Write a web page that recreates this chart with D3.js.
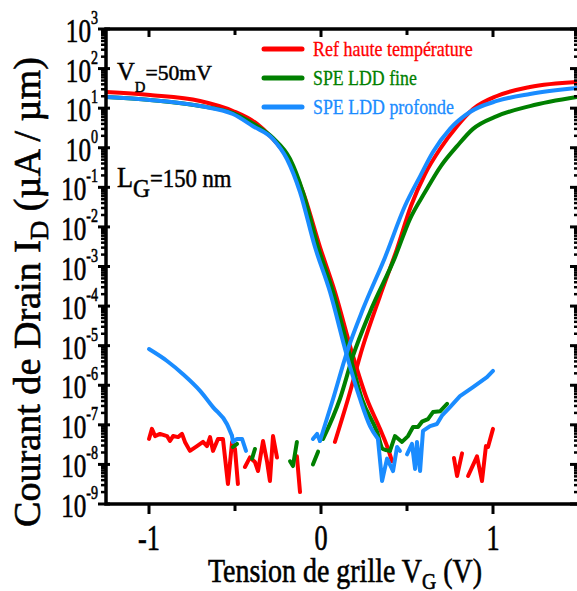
<!DOCTYPE html>
<html><head><meta charset="utf-8">
<script src="https://cdn.jsdelivr.net/npm/d3@7"></script>
<style>html,body{margin:0;padding:0;background:#fff;}svg{display:block;}</style>
</head><body>
<script>
// ---------------- DATA ----------------
const xTicksMajor = [-1, 0, 1];
const xTicksMinor = [-0.5, 0.5];
const xTickLabels = ["-1", "0", "1"];
const yDecadeExponents = [-9, -8, -7, -6, -5, -4, -3, -2, -1, 0, 1, 2, 3];
const seriesNames = ["Ref haute température", "SPE LDD fine", "SPE LDD profonde"];
const annotVD = ["V", "D", "=50mV"];
const annotLG = ["L", "G", "=150 nm"];
const xTitle = ["Tension de grille V", "G", " (V)"];
const yTitle = ["Courant de Drain I", "D", " (µA / µm)"];

// Ref haute température (red) — [VG (V), ID (µA/µm)]
const refBranchOff = [[-1.25,25.6],[-0.994,21.5],[-0.703,15.2],[-0.512,8.5],[-0.372,4.0],[-0.297,2.0],[-0.192,0.52],[-0.105,0.076],[-0.006,0.0031],[0.081,2.3e-4],[0.186,5.5e-6],[0.267,4.5e-7],[0.343,7.9e-8],[0.390,2.45e-8],[0.413,1.2e-8]];
const refBranchOn = [[0.081,3.7e-8],[0.157,4.5e-7],[0.244,9.8e-6],[0.343,1.8e-4],[0.442,0.0028],[0.523,0.0337],[0.605,0.217],[0.692,0.93],[0.791,3.5],[0.884,9.5],[1.023,20.3],[1.215,34.3],[1.488,45.8]];
const refNoiseLeft = [[-1.000,4.4e-8],[-0.983,7.9e-8],[-0.965,5.2e-8],[-0.936,5.9e-8],[-0.895,5.2e-8],[-0.878,3.9e-8],[-0.860,5.2e-8],[-0.831,4.9e-8],[-0.808,5.9e-8],[-0.791,3.7e-8],[-0.762,2.2e-8],[-0.721,2.9e-8],[-0.686,3.7e-8],[-0.663,2.9e-8],[-0.645,4.9e-8],[-0.628,2.2e-8],[-0.599,4.4e-8],[-0.570,4.4e-8],[-0.541,3.2e-9],[-0.517,3.7e-8],[-0.500,2.45e-8],[-0.483,3.2e-9]];
const refNoiseMid = [[-0.442,8.6e-9],[-0.413,1.5e-8],[-0.384,1.15e-8],[-0.366,6.8e-9],[-0.337,3.9e-8],[-0.314,1.2e-8],[-0.297,3.8e-9],[-0.279,5.2e-8],[-0.256,1.5e-8]];
const refNoiseNearZero = [[-0.140,1.6e-8],[-0.122,2.0e-9]];
const refNoiseRightA = [[0.773,1.45e-8],[0.791,5.1e-9],[0.820,1.9e-8]];
const refNoiseRightB = [[0.855,5.1e-9],[0.907,1.6e-8],[0.936,3.8e-9],[0.959,2.9e-8],[0.971,2.75e-8],[1.000,7.9e-8]];

// SPE LDD fine (green)
const fineBranchOff = [[-1.25,19.1],[-0.994,16.1],[-0.703,11.3],[-0.512,7.5],[-0.384,3.8],[-0.279,1.76],[-0.180,0.52],[-0.105,0.076],[-0.017,0.0031],[0.070,2.3e-4],[0.169,5.5e-6],[0.238,4.5e-7],[0.326,6.6e-8],[0.360,2.45e-8],[0.401,2.2e-8]];
const fineOffTail = [[0.401,2.2e-8],[0.430,5.2e-8],[0.471,3.7e-8],[0.506,5.2e-8],[0.535,8.8e-8],[0.564,8.8e-8],[0.587,1.2e-7],[0.622,1.4e-7],[0.651,2.1e-7],[0.692,2.2e-7],[0.733,3.4e-7]];
const fineBranchOn = [[0.012,4.4e-8],[0.110,4.5e-7],[0.186,5.5e-6],[0.285,7.1e-5],[0.430,0.0017],[0.517,0.0158],[0.605,0.076],[0.698,0.35],[0.791,1.1],[0.884,3.0],[1.023,6.3],[1.215,11.3],[1.488,19.1]];
const fineNoise1 = [[-0.512,2.75e-8],[-0.488,3.3e-8]];
const fineNoise2 = [[-0.401,1.4e-8],[-0.384,2.45e-8]];
const fineNoise3 = [[-0.180,1.2e-8],[-0.163,9.1e-9],[-0.140,3.7e-8]];
const fineNoise4 = [[-0.047,1.0e-8],[-0.017,2.1e-8]];

// SPE LDD profonde (blue)
const deepBranchOff = [[-1.25,19.1],[-0.994,16.1],[-0.703,11.3],[-0.512,7.1],[-0.395,3.5],[-0.279,1.66],[-0.198,0.52],[-0.122,0.076],[-0.035,0.0031],[0.052,2.3e-4],[0.151,5.5e-6],[0.227,4.5e-7],[0.285,9.3e-8],[0.331,4.4e-8]];
const deepOffNoise = [[0.331,4.4e-8],[0.355,3.8e-9],[0.384,1.4e-8],[0.419,6.8e-9],[0.442,2.75e-8],[0.459,2.2e-8]];
const deepOffTail = [[0.500,1.8e-8],[0.529,3.3e-8],[0.547,7.7e-9],[0.558,3.7e-8],[0.576,6.8e-9],[0.593,7.0e-8],[0.634,9.3e-8],[0.674,1.05e-7],[0.703,1.7e-7],[0.750,2.8e-7],[0.808,5.3e-7],[0.884,9.0e-7],[0.965,1.6e-6],[1.000,2.3e-6]];
const deepLeakLeft = [[-1.000,8.2e-6],[-0.895,4.1e-6],[-0.802,1.9e-6],[-0.703,7.2e-7],[-0.628,2.8e-7],[-0.547,1.05e-7],[-0.517,5.2e-8]];
const deepLeakNoise = [[-0.517,5.2e-8],[-0.512,3.7e-8],[-0.488,4.4e-8],[-0.459,4.4e-8],[-0.436,2.2e-8]];
const deepOnHook = [[-0.047,4.4e-8],[-0.023,5.9e-8],[-0.006,3.9e-8]];
const deepBranchOn = [[-0.006,3.9e-8],[0.070,4.5e-7],[0.151,6.9e-6],[0.244,8.4e-5],[0.372,0.0017],[0.488,0.0337],[0.576,0.19],[0.651,0.78],[0.750,3.0],[0.866,8.0],[1.023,15.2],[1.215,22.8],[1.488,32.3]];

// ---------------- RENDER ----------------
const W = 577, H = 591;
const FONT = "'Liberation Serif','Times New Roman',Times,serif";
const colors = ["#ff0000", "#008000", "#1a8cff"];
const series = [
  {name: seriesNames[0], color: colors[0],
   smooth: [refBranchOff, refBranchOn],
   rough: [refNoiseLeft, refNoiseMid, refNoiseNearZero, refNoiseRightA, refNoiseRightB]},
  {name: seriesNames[1], color: colors[1],
   smooth: [fineBranchOff, fineBranchOn],
   rough: [fineOffTail, fineNoise1, fineNoise2, fineNoise3, fineNoise4]},
  {name: seriesNames[2], color: colors[2],
   smooth: [deepLeakLeft, deepBranchOff, deepBranchOn],
   rough: [deepLeakNoise, deepOffNoise, deepOffTail, deepOnHook]}
];

const L = 106, R = 579, T = 29, B = 504;
const x = d3.scaleLinear().domain([-1.25, 1.5]).range([L, R]);
const y = d3.scaleLog().domain([1e-9, 1e3]).range([B, T]);

const svg = d3.select("body").append("svg").attr("width", W).attr("height", H)
  .style("font-family", FONT);
svg.append("rect").attr("width", W).attr("height", H).attr("fill", "#fff");

// curves
const lineSmooth = d3.line().x(d => x(d[0])).y(d => y(d[1])).curve(d3.curveMonotoneX);
const lineRough = d3.line().x(d => x(d[0])).y(d => y(d[1]));
svg.append("clipPath").attr("id", "pc").append("rect")
  .attr("x", L).attr("y", T).attr("width", R - L).attr("height", B - T);
const plot = svg.append("g").attr("clip-path", "url(#pc)");
series.forEach(s => {
  const draw = (seg, gen) => plot.append("path").datum(seg).attr("d", gen)
      .attr("fill", "none").attr("stroke", s.color).attr("stroke-width", 4)
      .attr("stroke-linejoin", "round").attr("stroke-linecap", "round");
  s.rough.forEach(seg => draw(seg, lineRough));
  s.smooth.forEach(seg => draw(seg, lineSmooth));
});

// axes
const axG = svg.append("g").attr("stroke", "#000").attr("fill", "none");
axG.append("rect").attr("x", L).attr("y", T).attr("width", R - L).attr("height", B - T).attr("stroke-width", 3.5);
const tickW = 3;
xTicksMajor.forEach(v => {
  axG.append("line").attr("x1", x(v)).attr("x2", x(v)).attr("y1", B).attr("y2", B + 10).attr("stroke-width", tickW);
  axG.append("line").attr("x1", x(v)).attr("x2", x(v)).attr("y1", T).attr("y2", T + 8).attr("stroke-width", tickW);
});
xTicksMinor.forEach(v => {
  axG.append("line").attr("x1", x(v)).attr("x2", x(v)).attr("y1", B).attr("y2", B + 7).attr("stroke-width", tickW);
  axG.append("line").attr("x1", x(v)).attr("x2", x(v)).attr("y1", T).attr("y2", T + 6).attr("stroke-width", tickW);
});
yDecadeExponents.forEach(e => {
  const v = Math.pow(10, e);
  const py = y(v);
  axG.append("line").attr("x1", L - 8).attr("x2", L + 4).attr("y1", py).attr("y2", py).attr("stroke-width", tickW);
  axG.append("line").attr("x1", R - 9).attr("x2", R).attr("y1", py).attr("y2", py).attr("stroke-width", tickW);
  if (e < 3) {
    for (let m = 2; m <= 9; m++) {
      const pm = y(m * v);
      axG.append("line").attr("x1", L - 5).attr("x2", L).attr("y1", pm).attr("y2", pm).attr("stroke-width", 2.5);
      axG.append("line").attr("x1", R - 5).attr("x2", R).attr("y1", pm).attr("y2", pm).attr("stroke-width", 2.5);
    }
  }
});

// text helper: horizontally condensed text like the reference
function addText(parent, tx, ty, anchor, parts, fill, opts) {
  opts = opts || {};
  const g = parent.append("g");
  const t = g.append("text").attr("text-anchor", anchor).attr("fill", fill || "#000")
    .attr("stroke", fill || "#000").attr("stroke-width", opts.sw == null ? 0.5 : opts.sw);
  parts.forEach(p => {
    const ts = t.append("tspan").attr("font-size", p.size).text(p.text);
    if (p.dy) ts.attr("dy", p.dy);
  });
  let sx = opts.scale || 1;
  if (opts.width) sx = opts.width / t.node().getBBox().width;
  const rot = opts.rotate ? ` rotate(${opts.rotate})` : "";
  g.attr("transform", `translate(${tx},${ty})${rot} scale(${sx},1)`);
  return g;
}

// y tick labels
yDecadeExponents.forEach(e => {
  addText(svg, 98, y(Math.pow(10, e)) + 13, "end",
    [{text: "10", size: 34}, {text: String(e), size: 19, dy: -18}], "#000", {scale: 0.74, sw: 0.6});
});
// x tick labels
xTicksMajor.forEach((v, i) => {
  addText(svg, x(v), 550, "middle", [{text: xTickLabels[i], size: 35}], "#000", {scale: 0.75, sw: 0.6});
});

// axis titles
addText(svg, 208, 582, "start",
  [{text: xTitle[0], size: 34}, {text: xTitle[1], size: 24, dy: 7}, {text: xTitle[2], size: 34, dy: -7}],
  "#000", {width: 274, sw: 0.6});
addText(svg, 40, 527, "start",
  [{text: yTitle[0], size: 37}, {text: yTitle[1], size: 26, dy: 8}, {text: yTitle[2], size: 37, dy: -8}],
  "#000", {width: 470, rotate: -90, sw: 0.6});

// annotations
addText(svg, 117, 80, "start",
  [{text: annotVD[0], size: 25}, {text: annotVD[1], size: 15, dy: 12}, {text: annotVD[2], size: 22, dy: -12}],
  "#000", {width: 95});
addText(svg, 117, 187, "start",
  [{text: annotLG[0], size: 29}, {text: annotLG[1], size: 26, dy: 10}, {text: annotLG[2], size: 25, dy: -10}],
  "#000", {width: 115});

// legend
const legendY = [49, 78, 107];
const legendW = [160, 104, 141];
series.forEach((s, i) => {
  svg.append("line").attr("x1", 264).attr("x2", 302).attr("y1", legendY[i]).attr("y2", legendY[i])
    .attr("stroke", s.color).attr("stroke-width", 5).attr("stroke-linecap", "round");
  addText(svg, 313, legendY[i] + 7, "start", [{text: s.name, size: 20}], s.color, {width: legendW[i], sw: 0.3});
});
</script>
</body></html>
